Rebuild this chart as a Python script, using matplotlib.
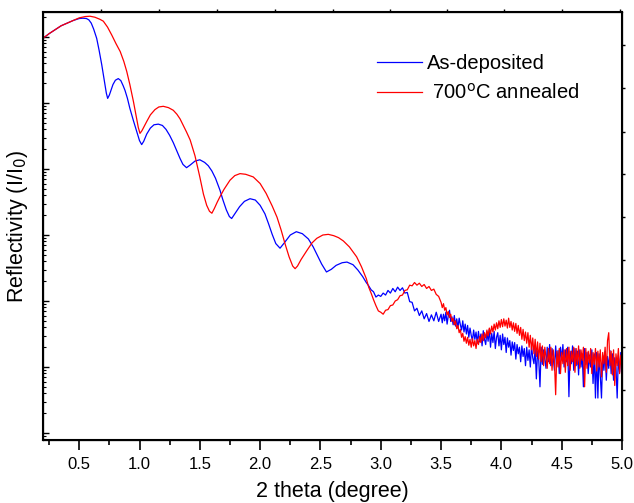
import numpy as np
import matplotlib
matplotlib.use("Agg")
import matplotlib.pyplot as plt

plt.rcParams['font.family'] = ['Liberation Sans', 'DejaVu Sans']

# values, log10 of reflectivity (I/I0)
x_dep = [0.20, 0.25, 0.30, 0.35, 0.40, 0.45, 0.50, 0.53, 0.56, 0.58, 0.60, 0.62, 0.645, 0.665, 0.687,
         0.71, 0.725, 0.736, 0.75, 0.765, 0.78, 0.80, 0.824, 0.845, 0.865, 0.88, 0.90, 0.92, 0.95, 0.977,
         1.00, 1.018, 1.035, 1.06, 1.09, 1.12, 1.156, 1.19, 1.22, 1.25, 1.28, 1.31, 1.336, 1.36, 1.39,
         1.42, 1.46, 1.50, 1.54, 1.57, 1.60, 1.63, 1.667, 1.69, 1.72, 1.745, 1.764, 1.79, 1.83, 1.87,
         1.916, 1.96, 2.00, 2.04, 2.07, 2.10, 2.13, 2.165, 2.20, 2.25, 2.30, 2.35, 2.40, 2.44, 2.47,
         2.51, 2.55, 2.59, 2.63, 2.68, 2.72, 2.77, 2.81, 2.85, 2.88]
logr_dep = [-0.02, 0.05, 0.11, 0.17, 0.21, 0.25, 0.28, 0.285, 0.28, 0.26, 0.21, 0.12, -0.02, -0.20, -0.42,
            -0.68, -0.85, -0.93, -0.88, -0.80, -0.72, -0.655, -0.63, -0.66, -0.74, -0.81, -0.93, -1.08, -1.27, -1.43,
            -1.57, -1.63, -1.58, -1.47, -1.38, -1.33, -1.32, -1.34, -1.40, -1.49, -1.60, -1.73, -1.84, -1.93, -1.98,
            -1.94, -1.88, -1.86, -1.90, -1.95, -2.03, -2.14, -2.32, -2.46, -2.62, -2.72, -2.75, -2.68, -2.57, -2.49,
            -2.45, -2.47, -2.55, -2.68, -2.83, -2.99, -3.13, -3.20, -3.12, -3.00, -2.95, -2.98, -3.06, -3.18, -3.29,
            -3.44, -3.56, -3.52, -3.46, -3.42, -3.41, -3.45, -3.53, -3.63, -3.72]

x_ann = [0.20, 0.25, 0.30, 0.35, 0.40, 0.45, 0.50, 0.55, 0.59, 0.63, 0.67, 0.70, 0.735, 0.77, 0.805,
         0.84, 0.87, 0.894, 0.92, 0.95, 0.975, 0.99, 1.004, 1.02, 1.04, 1.06, 1.09, 1.128, 1.16, 1.197,
         1.24, 1.28, 1.31, 1.336, 1.36, 1.39, 1.42, 1.46, 1.50, 1.53, 1.557, 1.58, 1.60, 1.62, 1.645,
         1.667, 1.70, 1.75, 1.79, 1.833, 1.88, 1.943, 2.00, 2.05, 2.10, 2.14, 2.175, 2.206, 2.24, 2.27,
         2.29, 2.31, 2.34, 2.386, 2.43, 2.47, 2.52, 2.565, 2.61, 2.65, 2.69, 2.74, 2.80, 2.84, 2.88]
logr_ann = [-0.02, 0.05, 0.11, 0.17, 0.21, 0.25, 0.29, 0.31, 0.315, 0.30, 0.27, 0.24, 0.15, 0.03, -0.10,
            -0.22, -0.37, -0.52, -0.72, -0.98, -1.22, -1.37, -1.46, -1.42, -1.35, -1.28, -1.18, -1.10, -1.06, -1.05,
            -1.07, -1.11, -1.17, -1.24, -1.33, -1.44, -1.56, -1.80, -2.12, -2.38, -2.55, -2.64, -2.67, -2.60, -2.50,
            -2.42, -2.31, -2.17, -2.10, -2.07, -2.08, -2.12, -2.22, -2.37, -2.56, -2.73, -2.93, -3.13, -3.33, -3.47,
            -3.51, -3.47, -3.37, -3.24, -3.12, -3.05, -3.00, -2.99, -3.01, -3.04, -3.09, -3.18, -3.33, -3.48, -3.66]

# noisy high-angle part (same sampling for both curves)
x_noisy = [2.90, 2.92, 2.94, 2.96, 2.98, 3.00, 3.02, 3.04, 3.06, 3.08, 3.10, 3.12, 3.14, 3.16, 3.18,
           3.20, 3.22, 3.24, 3.26, 3.28, 3.30, 3.32, 3.34, 3.36, 3.38, 3.40, 3.42, 3.44, 3.46, 3.48, 3.50,
           3.51, 3.52, 3.53, 3.54, 3.55, 3.56, 3.57, 3.58, 3.59, 3.60,
           3.61, 3.62, 3.63, 3.64, 3.65, 3.66, 3.67, 3.68, 3.69, 3.70,
           3.71, 3.72, 3.73, 3.74, 3.75, 3.76, 3.77, 3.78, 3.79, 3.80,
           3.81, 3.82, 3.83, 3.84, 3.85, 3.86, 3.87, 3.88, 3.89, 3.90,
           3.91, 3.92, 3.93, 3.94, 3.95, 3.96, 3.97, 3.98, 3.99, 4.00,
           4.01, 4.02, 4.03, 4.04, 4.05, 4.06, 4.07, 4.08, 4.09, 4.10,
           4.11, 4.12, 4.13, 4.14, 4.15, 4.16, 4.17, 4.18, 4.19, 4.20,
           4.21, 4.22, 4.23, 4.24, 4.25, 4.26, 4.27, 4.28, 4.29, 4.30,
           4.31, 4.32, 4.33, 4.34, 4.35, 4.36, 4.37, 4.38, 4.39, 4.40,
           4.41, 4.42, 4.43, 4.44, 4.45, 4.46, 4.47, 4.48, 4.49, 4.50,
           4.51, 4.52, 4.53, 4.54, 4.55, 4.56, 4.57, 4.58, 4.59, 4.60,
           4.61, 4.62, 4.63, 4.64, 4.65, 4.66, 4.67, 4.68, 4.69, 4.70,
           4.71, 4.72, 4.73, 4.74, 4.75, 4.76, 4.77, 4.78, 4.79, 4.80,
           4.81, 4.82, 4.83, 4.84, 4.85, 4.86, 4.87, 4.88, 4.89, 4.90,
           4.91, 4.92, 4.93, 4.94, 4.95, 4.96, 4.97, 4.98, 4.99, 5.00]
logr_dep_noisy = [-3.77, -3.83, -3.86, -3.94, -3.91, -3.93, -3.88, -3.91, -3.84, -3.88, -3.81, -3.86, -3.79, -3.84, -3.80,
                  -3.88, -3.87, -4.01, -4.02, -4.15, -4.11, -4.22, -4.15, -4.27, -4.19, -4.31, -4.21, -4.30, -4.17, -4.31, -4.20,
                  -4.33, -4.20, -4.30, -4.17, -4.35, -4.22, -4.14, -4.31, -4.24, -4.36,
                  -4.22, -4.38, -4.27, -4.41, -4.26, -4.36, -4.44, -4.30, -4.47, -4.35,
                  -4.50, -4.37, -4.55, -4.41, -4.52, -4.60, -4.44, -4.58, -4.47, -4.64,
                  -4.46, -4.62, -4.50, -4.68, -4.45, -4.58, -4.66, -4.47, -4.61, -4.43,
                  -4.70, -4.49, -4.63, -4.46, -4.72, -4.55, -4.48, -4.68, -4.52, -4.74,
                  -4.50, -4.66, -4.55, -4.78, -4.56, -4.70, -4.60, -4.82, -4.62, -4.75,
                  -4.63, -4.88, -4.66, -4.80, -4.70, -4.92, -4.68, -4.84, -4.72, -4.98,
                  -4.70, -4.90, -4.74, -5.00, -4.68, -4.86, -4.95, -4.72, -5.18, -4.76,
                  -4.90, -5.30, -4.70, -4.96, -4.74, -4.88, -5.02, -4.70, -4.92, -4.66,
                  -4.98, -4.72, -4.86, -5.05, -4.68, -4.94, -4.75, -5.10, -4.70, -4.88,
                  -4.66, -5.00, -4.74, -4.92, -4.70, -5.45, -4.76, -4.95, -4.68, -5.05,
                  -4.72, -4.98, -4.76, -5.12, -4.74, -5.00, -4.80, -5.30, -4.72, -4.96,
                  -4.78, -5.10, -4.82, -5.00, -4.74, -5.25, -4.80, -5.47, -4.78, -5.47,
                  -4.80, -5.15, -5.47, -4.82, -5.05, -4.76, -5.20, -4.84, -5.02, -4.75,
                  -5.10, -4.80, -5.20, -4.86, -5.00, -5.47, -4.82, -5.08, -4.78, -5.05]
logr_ann_noisy = [-3.79, -3.88, -3.98, -4.07, -4.15, -4.17, -4.20, -4.14, -4.13, -4.07, -4.06, -4.00, -3.98, -3.92, -3.91,
                  -3.84, -3.83, -3.76, -3.77, -3.72, -3.76, -3.73, -3.78, -3.75, -3.81, -3.78, -3.84, -3.82, -3.90, -3.93, -4.02,
                  -4.10, -4.04, -4.14, -4.10, -4.21, -4.16, -4.25, -4.20, -4.31, -4.26,
                  -4.36, -4.30, -4.42, -4.37, -4.48, -4.43, -4.55, -4.49, -4.61, -4.54,
                  -4.64, -4.55, -4.67, -4.58, -4.70, -4.57, -4.68, -4.60, -4.72, -4.58,
                  -4.66, -4.54, -4.63, -4.50, -4.60, -4.48, -4.56, -4.44, -4.53, -4.41,
                  -4.50, -4.38, -4.47, -4.35, -4.44, -4.33, -4.42, -4.30, -4.40, -4.28,
                  -4.39, -4.27, -4.38, -4.29, -4.41, -4.26, -4.40, -4.31, -4.44, -4.33,
                  -4.46, -4.34, -4.49, -4.37, -4.52, -4.40, -4.58, -4.43, -4.60, -4.47,
                  -4.64, -4.48, -4.70, -4.52, -4.74, -4.56, -4.80, -4.58, -4.84, -4.62,
                  -4.88, -4.64, -4.92, -4.68, -4.98, -4.70, -4.86, -5.02, -4.72, -4.95,
                  -4.70, -5.05, -4.74, -4.92, -5.42, -4.76, -5.00, -4.72, -5.10, -4.78,
                  -4.95, -4.74, -5.08, -4.72, -4.98, -4.70, -5.05, -4.76, -4.92, -4.70,
                  -5.08, -4.72, -4.96, -4.68, -5.02, -4.74, -4.90, -4.70, -5.30, -4.72,
                  -5.02, -4.76, -4.94, -4.72, -5.10, -4.78, -4.96, -4.72, -5.06, -4.76,
                  -5.00, -4.74, -5.15, -4.78, -4.95, -4.70, -5.08, -4.60, -4.48, -4.98,
                  -4.76, -5.12, -4.74, -5.28, -4.80, -4.98, -4.72, -5.10, -4.82, -5.05]

# little extra tick marks seen on the top and right frame
top_ticks = [0.68, 1.16, 1.64, 2.12, 2.60, 3.08, 3.55, 4.02, 4.50, 4.98]
right_ticks_log = [-0.12, -0.77, -1.44, -2.08, -2.73, -3.38, -4.03, -4.70, -5.35]

xd = np.array(x_dep + x_noisy)
yd = 10 ** np.array(logr_dep + logr_dep_noisy)
xa = np.array(x_ann + x_noisy)
ya = 10 ** np.array(logr_ann + logr_ann_noisy)

fig = plt.figure(figsize=(6.34, 5.03), dpi=100)
ax = fig.add_axes([43/634, 63/503, 579/634, 428/503])

ax.plot(xd, yd, color='#0000ff', lw=0.9, label='As-deposited')
ax.plot(xa, ya, color='#ff0000', lw=0.9, label=' 700$^{\\rm o}$C annealed')

ax.set_yscale('log')
ax.set_xlim(0.2, 5.0)
ylim = (10 ** -6.106, 10 ** 0.379)
ax.set_ylim(*ylim)
ax.set_xticks(np.arange(0.5, 5.01, 0.5))
ax.set_xticks(np.arange(0.25, 5.01, 0.25), minor=True)
ax.set_xticklabels(['%.1f' % v for v in np.arange(0.5, 5.01, 0.5)])
ax.tick_params(axis='x', which='major', direction='out', length=7, width=1.2, labelsize=12, pad=5)
ax.tick_params(axis='x', which='minor', direction='out', length=3.5, width=1.2)
ax.tick_params(axis='y', which='major', direction='in', length=4.5, width=1.0, labelleft=False)
ax.tick_params(axis='y', which='minor', direction='in', length=2.5, width=0.8, labelleft=False)
ax.yaxis.set_minor_locator(matplotlib.ticker.LogLocator(base=10, subs=np.arange(2, 10)))
ax.yaxis.set_minor_formatter(matplotlib.ticker.NullFormatter())
for s in ax.spines.values():
    s.set_linewidth(1.5)

axt = ax.twiny()
axt.set_xlim(ax.get_xlim())
axt.set_xticks(top_ticks)
axt.tick_params(axis='x', direction='out', length=2, width=1, labeltop=False)

axr = ax.twinx()
axr.set_yscale('log')
axr.set_ylim(*ylim)
axr.set_yticks([10 ** v for v in right_ticks_log])
axr.yaxis.set_minor_locator(matplotlib.ticker.NullLocator())
axr.tick_params(axis='y', direction='out', length=2, width=1, labelright=False)

ax.set_xlabel('2 theta (degree)', fontsize=15.5, labelpad=7)
ax.set_ylabel('Reflectivity (I/I$_0$)', fontsize=15.5, labelpad=9)

ax.legend(loc='upper left', bbox_to_anchor=(0.577, 0.902), frameon=False, fontsize=14.5,
          handlelength=2.25, handletextpad=0.25, borderpad=0, borderaxespad=0, labelspacing=0.5)

fig.savefig('out.png', dpi=100)
